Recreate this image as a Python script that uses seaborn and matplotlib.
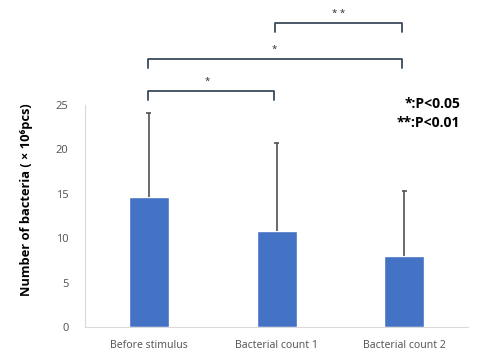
import matplotlib
matplotlib.use("Agg")
import matplotlib.pyplot as plt
import seaborn as sns
import numpy as np
import pandas as pd

categories = ["Before stimulus", "Bacterial count 1", "Bacterial count 2"]
means = [14.7, 10.8, 8.0]
sd = [9.45, 9.9, 7.3]
yticks = [0, 5, 10, 15, 20, 25]
# significance brackets: (left idx, right idx, label)
comparisons = [(0, 1, "*"), (0, 2, "*"), (1, 2, "* *")]
bracket_levels = [26.6, 30.2, 34.2]
legend_lines = ["*:P<0.05", "**:P<0.01"]

sns.set_theme(style="white")
plt.rcParams['font.family'] = ['Noto Sans', 'DejaVu Sans']
bold_family = ['Open Sans', 'Liberation Sans', 'DejaVu Sans']

df = pd.DataFrame({"cat": categories, "val": means})

fig = plt.figure(figsize=(4.85, 3.63), dpi=100)
ax = fig.add_axes([0.1753, 0.0983, 0.965 - 0.1753, 0.7107 - 0.0983])

sns.barplot(data=df, x="cat", y="val", color="#4472C4", width=0.313,
            saturation=1, errorbar=None, ax=ax)
xs = np.arange(len(categories))
tops = np.array(means) + np.array(sd)
ax.vlines(xs, means, tops, color="#505050", lw=1.2, zorder=3)
ax.hlines(tops, xs - 0.02, xs + 0.02, color="#505050", lw=1.2, zorder=3)

ax.set_xlim(-0.5, 2.5)
ax.set_ylim(0, 25)
ax.set_yticks(yticks)
ax.set_yticklabels([str(t) for t in yticks])
ax.tick_params(axis="both", length=0, colors="#595959", labelsize=7.5)
ax.tick_params(axis="y", labelsize=8, pad=12)
ax.tick_params(axis="x", pad=9)
ax.set_xlabel("")
ax.set_ylabel("Number of bacteria ( × 10⁶pcs)", fontsize=9.3,
              fontweight="bold", color="black",
              family=bold_family)
ax.yaxis.set_label_coords(-0.136, 0.575)

for s in ["top", "right"]:
    ax.spines[s].set_visible(False)
for s in ["left", "bottom"]:
    ax.spines[s].set_color("#d9d9d9")
    ax.spines[s].set_linewidth(0.8)

bcol = "#3b4a5e"
for (l, r, lab), yb in zip(comparisons, bracket_levels):
    xl, xr = l - 0.01, r - 0.02
    ax.plot([xl, xl, xr, xr], [yb - 1.0, yb, yb, yb - 1.0], color=bcol,
            lw=1.3, clip_on=False)
    ax.text((xl + xr) / 2 - (0.03 if l == 0 and r == 1 else 0), yb + 0.6, lab,
            ha="center", va="bottom", fontsize=7, color="#333333",
            clip_on=False)

ax.text(0.979, 1.004, legend_lines[0], transform=ax.transAxes, ha="right",
        va="center", fontsize=10, fontweight="bold", color="black",
        family=bold_family)
ax.text(0.979, 0.92, legend_lines[1], transform=ax.transAxes, ha="right",
        va="center", fontsize=10, fontweight="bold", color="black",
        family=bold_family)

fig.savefig("out.png", dpi=100)
